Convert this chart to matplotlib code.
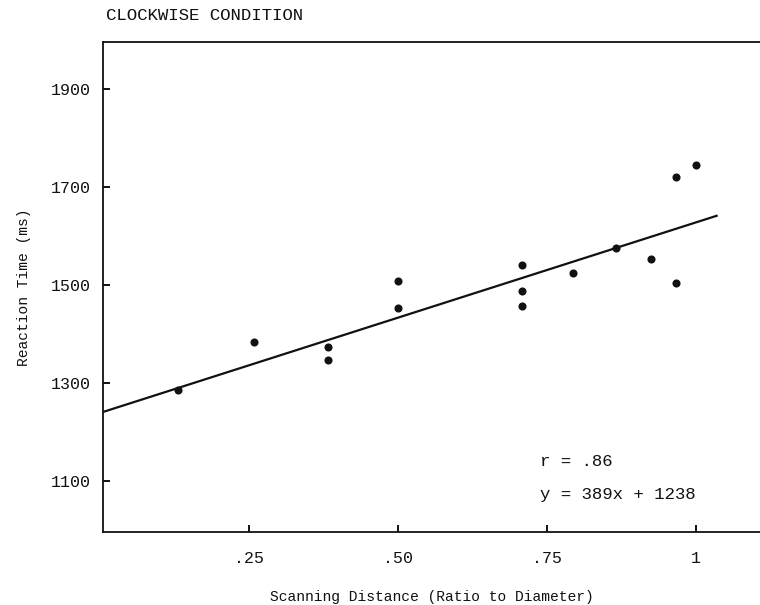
import numpy as np
import matplotlib
matplotlib.use('Agg')
import matplotlib.pyplot as plt

# scanning distance (chord / diameter) and reaction time in ms
scan_dist = [0.131, 0.259, 0.383, 0.383, 0.5, 0.5, 0.707, 0.707, 0.707,
             0.793, 0.866, 0.924, 0.966, 0.966, 1.0]
reaction_ms = [1284, 1382, 1373, 1346, 1508, 1452, 1539, 1486, 1457,
               1523, 1575, 1552, 1503, 1720, 1744]

slope = 389
intercept = 1238
fit_x = [0.0, 1.036]

x_ticks = [0.25, 0.50, 0.75, 1.0]
x_tick_labels = ['.25', '.50', '.75', '1']
y_ticks = [1100, 1300, 1500, 1700, 1900]
y_tick_labels = ['1100', '1300', '1500', '1700', '1900']

mono = ['Liberation Mono', 'DejaVu Sans Mono']
ink = '#111111'

fig = plt.figure(figsize=(7.6, 6.05), dpi=100)
ax = fig.add_axes([103 / 760, 73 / 605, 657 / 760, 490 / 605])

fx = np.array(fit_x)
ax.plot(fx, slope * fx + intercept, color=ink, lw=1.6, solid_capstyle='butt')
ax.scatter(scan_dist, reaction_ms, s=34, color=ink, zorder=3, linewidths=0)

ax.set_xlim(0.005, 1.107)
ax.set_ylim(995, 1995)

ax.set_xticks(x_ticks)
ax.set_xticklabels(x_tick_labels, fontsize=12, family=mono)
ax.set_yticks(y_ticks)
ax.set_yticklabels(y_tick_labels, fontsize=12, family=mono)
ax.tick_params(direction='in', length=5, width=1.4, colors=ink)
ax.tick_params(axis='x', pad=14)
ax.tick_params(axis='y', pad=9)

ax.spines['right'].set_visible(False)
for s in ['left', 'top', 'bottom']:
    ax.spines[s].set_linewidth(1.3)
    ax.spines[s].set_color(ink)

ax.set_xlabel('Scanning Distance (Ratio to Diameter)', fontsize=10.5,
              family=mono, labelpad=17, color=ink)
ax.set_ylabel('Reaction Time (ms)', fontsize=10.5, family=mono,
              labelpad=14, color=ink)

ax.text(0.738, 1138, 'r = .86', fontsize=12.5, family=mono, va='center', color=ink)
ax.text(0.738, 1071, 'y = 389x + 1238', fontsize=12.5, family=mono, va='center', color=ink)

fig.text(106 / 760, 1 - 15 / 605, 'CLOCKWISE CONDITION', fontsize=12.5,
         family=mono, va='center', ha='left', color=ink)

fig.savefig('out.png', dpi=100)
